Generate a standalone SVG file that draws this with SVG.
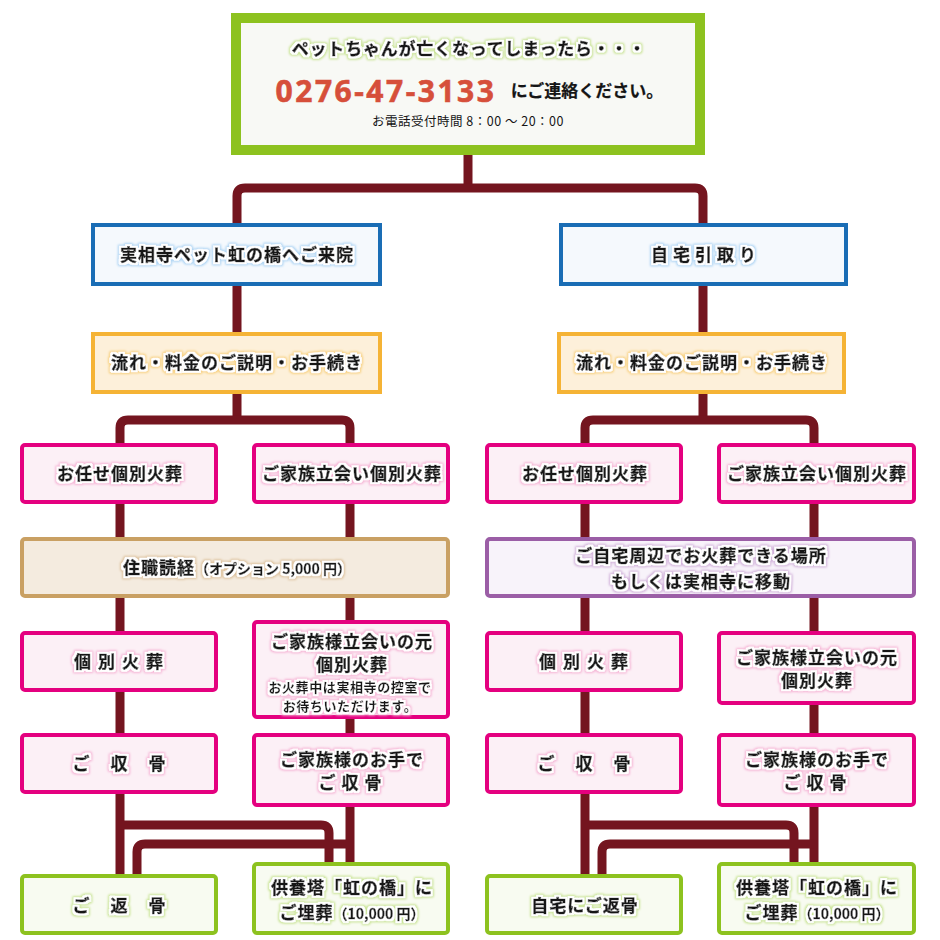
<svg xmlns="http://www.w3.org/2000/svg" width="940" height="940" viewBox="0 0 940 940">
<defs>
<style>
.t{font-family:"Noto Sans CJK JP","Noto Sans",sans-serif;font-weight:bold;fill:#151515;stroke:#151515;stroke-width:0.6px;text-anchor:middle;font-size:17px;letter-spacing:1px}
.s{font-size:14px;letter-spacing:0;stroke-width:0.4px}
.n{font-size:13px;letter-spacing:0.6px;stroke-width:0.2px}
.c{fill:none;stroke:#74151f;stroke-width:9;stroke-linejoin:round}
.pk{fill:#fcf0f6;stroke:#e4007f;stroke-width:4}
.gr{fill:#f8fbf1;stroke:#8dc21f;stroke-width:4}
</style>
<filter id="gb" x="-10%" y="-40%" width="120%" height="180%"><feMorphology in="SourceAlpha" operator="dilate" radius="3" result="d"/><feGaussianBlur in="d" stdDeviation="1" result="b"/><feFlood flood-color="#a9d2f3"/><feComposite in2="b" operator="in" result="g"/><feMorphology in="SourceAlpha" operator="dilate" radius="1.6" result="d2"/><feFlood flood-color="#fff"/><feComposite in2="d2" operator="in" result="w"/><feMerge><feMergeNode in="g"/><feMergeNode in="w"/><feMergeNode in="SourceGraphic"/></feMerge></filter>
<filter id="go" x="-10%" y="-40%" width="120%" height="180%"><feMorphology in="SourceAlpha" operator="dilate" radius="3" result="d"/><feGaussianBlur in="d" stdDeviation="1" result="b"/><feFlood flood-color="#f7cf7a"/><feComposite in2="b" operator="in" result="g"/><feMorphology in="SourceAlpha" operator="dilate" radius="1.6" result="d2"/><feFlood flood-color="#fff"/><feComposite in2="d2" operator="in" result="w"/><feMerge><feMergeNode in="g"/><feMergeNode in="w"/><feMergeNode in="SourceGraphic"/></feMerge></filter>
<filter id="gp" x="-10%" y="-40%" width="120%" height="180%"><feMorphology in="SourceAlpha" operator="dilate" radius="3" result="d"/><feGaussianBlur in="d" stdDeviation="1" result="b"/><feFlood flood-color="#f5b0d3"/><feComposite in2="b" operator="in" result="g"/><feMorphology in="SourceAlpha" operator="dilate" radius="1.6" result="d2"/><feFlood flood-color="#fff"/><feComposite in2="d2" operator="in" result="w"/><feMerge><feMergeNode in="g"/><feMergeNode in="w"/><feMergeNode in="SourceGraphic"/></feMerge></filter>
<filter id="gt" x="-10%" y="-40%" width="120%" height="180%"><feMorphology in="SourceAlpha" operator="dilate" radius="3" result="d"/><feGaussianBlur in="d" stdDeviation="1" result="b"/><feFlood flood-color="#dcc09a"/><feComposite in2="b" operator="in" result="g"/><feMorphology in="SourceAlpha" operator="dilate" radius="1.6" result="d2"/><feFlood flood-color="#fff"/><feComposite in2="d2" operator="in" result="w"/><feMerge><feMergeNode in="g"/><feMergeNode in="w"/><feMergeNode in="SourceGraphic"/></feMerge></filter>
<filter id="gv" x="-10%" y="-40%" width="120%" height="180%"><feMorphology in="SourceAlpha" operator="dilate" radius="3" result="d"/><feGaussianBlur in="d" stdDeviation="1" result="b"/><feFlood flood-color="#cfadd8"/><feComposite in2="b" operator="in" result="g"/><feMorphology in="SourceAlpha" operator="dilate" radius="1.6" result="d2"/><feFlood flood-color="#fff"/><feComposite in2="d2" operator="in" result="w"/><feMerge><feMergeNode in="g"/><feMergeNode in="w"/><feMergeNode in="SourceGraphic"/></feMerge></filter>
<filter id="gg" x="-10%" y="-40%" width="120%" height="180%"><feMorphology in="SourceAlpha" operator="dilate" radius="3" result="d"/><feGaussianBlur in="d" stdDeviation="1" result="b"/><feFlood flood-color="#c6e28e"/><feComposite in2="b" operator="in" result="g"/><feMorphology in="SourceAlpha" operator="dilate" radius="1.6" result="d2"/><feFlood flood-color="#fff"/><feComposite in2="d2" operator="in" result="w"/><feMerge><feMergeNode in="g"/><feMergeNode in="w"/><feMergeNode in="SourceGraphic"/></feMerge></filter>
</defs>
<rect width="940" height="940" fill="#fff"/>

<g id="connectors">
<path class="c" d="M468 150 V188"/>
<path class="c" d="M237 226 V196 Q237 188 245 188 H695 Q703 188 703 196 V226"/>
<path class="c" d="M237 280 V420"/>
<path class="c" d="M120 874 V428 Q120 420 128 420 H342 Q350 420 350 428 V862"/>
<path class="c" d="M120 825 H321 Q329 825 329 833 V862"/>
<path class="c" d="M350 844 H145 Q137 844 137 852 V874"/>
<path class="c" d="M703 280 V420"/>
<path class="c" d="M585 874 V428 Q585 420 593 420 H806 Q814 420 814 428 V862"/>
<path class="c" d="M585 825 H786 Q794 825 794 833 V862"/>
<path class="c" d="M814 844 H610 Q602 844 602 852 V874"/>
</g>

<g id="top">
<rect x="236" y="18" width="464" height="132" fill="#f8f9f5" stroke="#8dc21f" stroke-width="10"/>
<text class="t" x="469" y="55" style="letter-spacing:0.8px" filter="url(#gg)">ペットちゃんが亡くなってしまったら・・・</text>
<text x="386" y="102" style="font-family:'Noto Sans','Noto Sans CJK JP',sans-serif;font-weight:bold;font-size:30px;letter-spacing:2.5px;fill:#d64f3a;stroke:#d64f3a;stroke-width:0.6px;text-anchor:middle">0276-47-3133</text>
<text class="t" x="587" y="97" style="letter-spacing:0;stroke-width:0.2px">にご連絡ください。</text>
<text class="t" x="468" y="126" style="font-weight:normal;stroke-width:0;font-size:12.5px;letter-spacing:0.5px">お電話受付時間 8：00 〜 20：00</text>
</g>

<g id="n-visit">
<rect x="93" y="225" width="287" height="59" fill="#f5f9fd" stroke="#1a6db5" stroke-width="4"/>
<text class="t" x="237" y="261" filter="url(#gb)">実相寺ペット虹の橋へご来院</text>
</g>
<g id="n-home">
<rect x="561" y="225" width="285" height="59" fill="#f5f9fd" stroke="#1a6db5" stroke-width="4"/>
<text class="t" x="706" y="261" style="letter-spacing:5px" filter="url(#gb)">自宅引取り</text>
</g>

<g id="n-explain-l">
<rect x="93" y="334" width="287" height="58" fill="#fdf0da" stroke="#f5b335" stroke-width="4"/>
<text class="t" x="237" y="369" filter="url(#go)">流れ・料金のご説明・お手続き</text>
</g>
<g id="n-explain-r">
<rect x="559" y="334" width="285" height="58" fill="#fdf0da" stroke="#f5b335" stroke-width="4"/>
<text class="t" x="702" y="369" filter="url(#go)">流れ・料金のご説明・お手続き</text>
</g>

<g id="n-omakase-l">
<rect class="pk" x="22" y="445" width="194" height="57" rx="3"/>
<text class="t" x="120" y="480" filter="url(#gp)">お任せ個別火葬</text>
</g>
<g id="n-tachiai-l">
<rect class="pk" x="254" y="445" width="194" height="57" rx="3"/>
<text class="t" x="352" y="480" filter="url(#gp)">ご家族立会い個別火葬</text>
</g>
<g id="n-omakase-r">
<rect class="pk" x="487" y="445" width="194" height="57" rx="3"/>
<text class="t" x="585" y="480" filter="url(#gp)">お任せ個別火葬</text>
</g>
<g id="n-tachiai-r">
<rect class="pk" x="719" y="445" width="195" height="57" rx="3"/>
<text class="t" x="817" y="480" filter="url(#gp)">ご家族立会い個別火葬</text>
</g>

<g id="n-dokkyo">
<rect x="22" y="539" width="426" height="57" rx="3" fill="#f4ebdf" stroke="#c9a063" stroke-width="4"/>
<text class="t" x="237" y="574" filter="url(#gt)">住職読経<tspan class="s">（オプション 5,000 円）</tspan></text>
</g>
<g id="n-move">
<rect x="487" y="539" width="427" height="57" rx="3" fill="#f8f3fa" stroke="#9b5ea6" stroke-width="4"/>
<text class="t" x="701" y="562" filter="url(#gv)">ご自宅周辺でお火葬できる場所</text>
<text class="t" x="701" y="588" filter="url(#gv)">もしくは実相寺に移動</text>
</g>

<g id="n-kobetsu-l">
<rect class="pk" x="22" y="633" width="194" height="57" rx="3"/>
<text class="t" x="122" y="668" style="letter-spacing:7px" filter="url(#gp)">個別火葬</text>
</g>
<g id="n-moto-l">
<rect class="pk" x="254" y="622" width="194" height="95" rx="3"/>
<text class="t" x="352" y="648" filter="url(#gp)">ご家族様立会いの元</text>
<text class="t" x="352" y="671" filter="url(#gp)">個別火葬</text>
<text class="t n" x="350" y="692" filter="url(#gp)">お火葬中は実相寺の控室で</text>
<text class="t n" x="350" y="711" filter="url(#gp)">お待ちいただけます。</text>
</g>
<g id="n-kobetsu-r">
<rect class="pk" x="487" y="633" width="194" height="57" rx="3"/>
<text class="t" x="587" y="668" style="letter-spacing:7px" filter="url(#gp)">個別火葬</text>
</g>
<g id="n-moto-r">
<rect class="pk" x="719" y="633" width="195" height="70" rx="3"/>
<text class="t" x="817" y="664" filter="url(#gp)">ご家族様立会いの元</text>
<text class="t" x="817" y="687" filter="url(#gp)">個別火葬</text>
</g>

<g id="n-shukotsu-l">
<rect class="pk" x="22" y="735" width="194" height="57" rx="3"/>
<text class="t" x="120" y="770" style="letter-spacing:2px" filter="url(#gp)">ご　収　骨</text>
</g>
<g id="n-otede-l">
<rect class="pk" x="254" y="735" width="194" height="70" rx="3"/>
<text class="t" x="352" y="766" filter="url(#gp)">ご家族様のお手で</text>
<text class="t" x="353" y="789" style="letter-spacing:6px" filter="url(#gp)">ご収骨</text>
</g>
<g id="n-shukotsu-r">
<rect class="pk" x="487" y="735" width="194" height="57" rx="3"/>
<text class="t" x="585" y="770" style="letter-spacing:2px" filter="url(#gp)">ご　収　骨</text>
</g>
<g id="n-otede-r">
<rect class="pk" x="719" y="735" width="195" height="70" rx="3"/>
<text class="t" x="817" y="766" filter="url(#gp)">ご家族様のお手で</text>
<text class="t" x="818" y="789" style="letter-spacing:6px" filter="url(#gp)">ご収骨</text>
</g>

<g id="n-henkotsu-l">
<rect class="gr" x="22" y="876" width="194" height="57" rx="3"/>
<text class="t" x="120" y="912" style="letter-spacing:2px" filter="url(#gg)">ご　返　骨</text>
</g>
<g id="n-kuyo-l">
<rect class="gr" x="254" y="864" width="194" height="69" rx="3"/>
<text class="t" x="352" y="894" filter="url(#gg)">供養塔「虹の橋」に</text>
<text class="t" x="352" y="919" filter="url(#gg)">ご埋葬<tspan class="s">（10,000 円）</tspan></text>
</g>
<g id="n-henkotsu-r">
<rect class="gr" x="487" y="876" width="194" height="57" rx="3"/>
<text class="t" x="585" y="912" filter="url(#gg)">自宅にご返骨</text>
</g>
<g id="n-kuyo-r">
<rect class="gr" x="719" y="864" width="195" height="69" rx="3"/>
<text class="t" x="817" y="894" filter="url(#gg)">供養塔「虹の橋」に</text>
<text class="t" x="817" y="919" filter="url(#gg)">ご埋葬<tspan class="s">（10,000 円）</tspan></text>
</g>
</svg>
